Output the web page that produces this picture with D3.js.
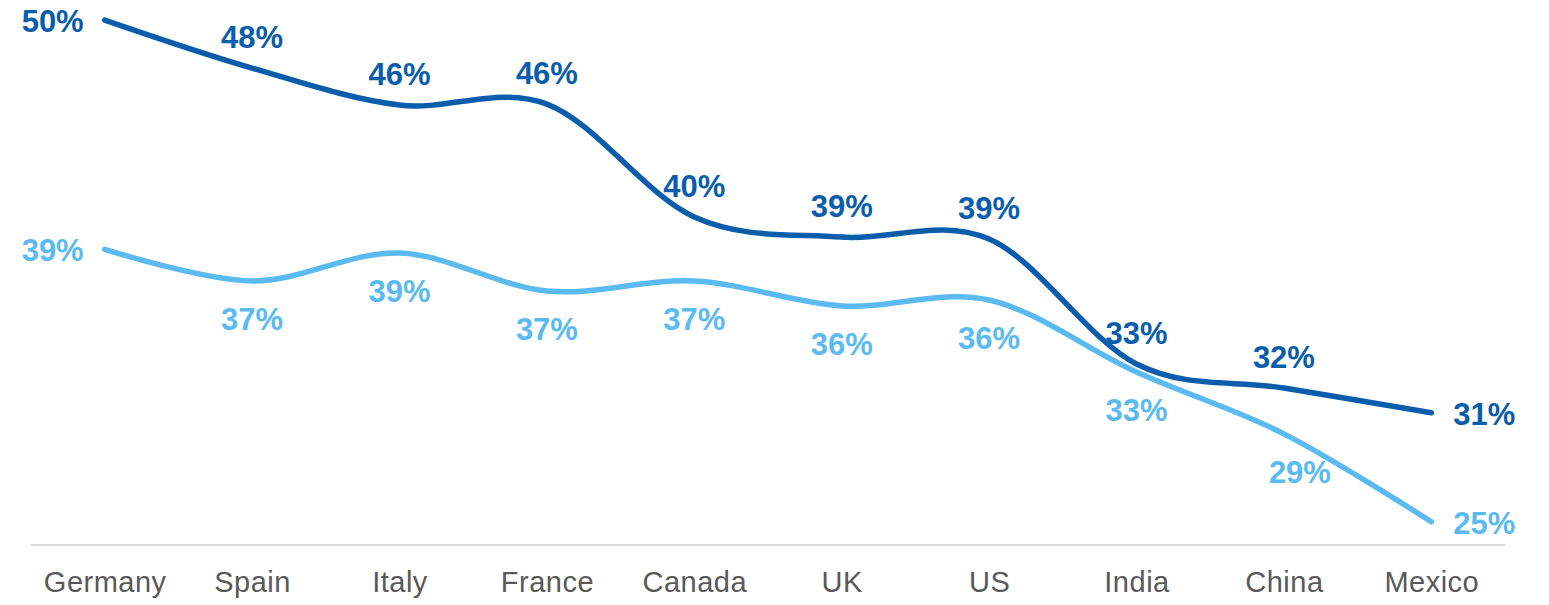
<!DOCTYPE html>
<html>
<head>
<meta charset="utf-8">
<script src="https://cdn.jsdelivr.net/npm/d3@7"></script>
<style>
  html, body { margin: 0; padding: 0; background: #ffffff; }
  svg { display: block; }
</style>
</head>
<body>
<svg id="chart" width="1549" height="605"></svg>
<script>
// Countries along the category axis
const countries = ["Germany", "Spain", "Italy", "France", "Canada", "UK", "US", "India", "China", "Mexico"];

// Share per country, upper series (dark blue)
const seriesDark = [0.5048, 0.4804, 0.4616, 0.4621, 0.4047, 0.3945, 0.3935, 0.3300, 0.3178, 0.3052];

// Share per country, lower series (light blue)
const seriesLight = [0.3883, 0.3722, 0.3864, 0.3671, 0.3722, 0.3595, 0.3625, 0.3259, 0.2945, 0.2498];

// Value axis range (axis itself is hidden)
const valueDomain = [0.238, 0.515];

const colors = { dark: "#0a5dab", light: "#5bbbf1", axis: "#d9d9d9", tick: "#595959" };

const svg = d3.select("#chart");
const plot = { left: 31, right: 1505, top: 0, bottom: 545 };

const x = d3.scalePoint()
  .domain(countries)
  .range([plot.left, plot.right])
  .padding(0.5);

const y = d3.scaleLinear()
  .domain(valueDomain)
  .range([plot.bottom, plot.top]);

const fmt = d3.format(".0%");

// Category axis: baseline plus country names
const xAxis = d3.axisBottom(x).tickSize(0).tickPadding(0);
const axisG = svg.append("g")
  .attr("transform", `translate(0,${plot.bottom})`)
  .call(xAxis);
axisG.select(".domain")
  .attr("d", `M${plot.left},0H${plot.right}`)
  .attr("stroke", colors.axis)
  .attr("stroke-width", 2);
axisG.selectAll(".tick text")
  .attr("y", 47)
  .attr("dy", null)
  .attr("fill", colors.tick)
  .style("font-family", "'Liberation Sans', Arial, sans-serif")
  .style("font-size", "29px")
  .style("letter-spacing", "0.5px");

const line = d3.line()
  .x((d, i) => x(countries[i]))
  .y(d => y(d))
  .curve(d3.curveCardinal.tension(0));

const series = [
  { key: "light", values: seriesLight, color: colors.light, labelSide: "below" },
  { key: "dark", values: seriesDark, color: colors.dark, labelSide: "above" }
];

// Smoothed lines
svg.selectAll("path.series")
  .data(series)
  .join("path")
  .attr("class", "series")
  .attr("d", s => line(s.values))
  .attr("fill", "none")
  .attr("stroke", s => s.color)
  .attr("stroke-width", 5.5)
  .attr("stroke-linecap", "round")
  .attr("stroke-linejoin", "round");

// Data labels: first point to the left, last point to the right,
// the rest above (upper series) or below (lower series).
// The China label of the lower series sits a little to the right of its point.
const last = countries.length - 1;
const nudgeX = (key, i) => (key === "light" && countries[i] === "China") ? 16 : 0;

series.forEach(s => {
  svg.append("g")
    .selectAll("text")
    .data(s.values)
    .join("text")
    .attr("x", (d, i) => {
      const px = x(countries[i]);
      if (i === 0) return px - 21;
      if (i === last) return px + 22;
      return px + nudgeX(s.key, i);
    })
    .attr("y", (d, i) => {
      const py = y(d);
      if (i === 0 || i === last) return py + 12;
      return s.labelSide === "above" ? py - 20 : py + 49;
    })
    .attr("text-anchor", (d, i) => i === 0 ? "end" : (i === last ? "start" : "middle"))
    .attr("fill", s.color)
    .style("font-family", "'Liberation Sans', Arial, sans-serif")
    .style("font-weight", "bold")
    .style("font-size", "31px")
    .text(d => fmt(d));
});
</script>
</body>
</html>
